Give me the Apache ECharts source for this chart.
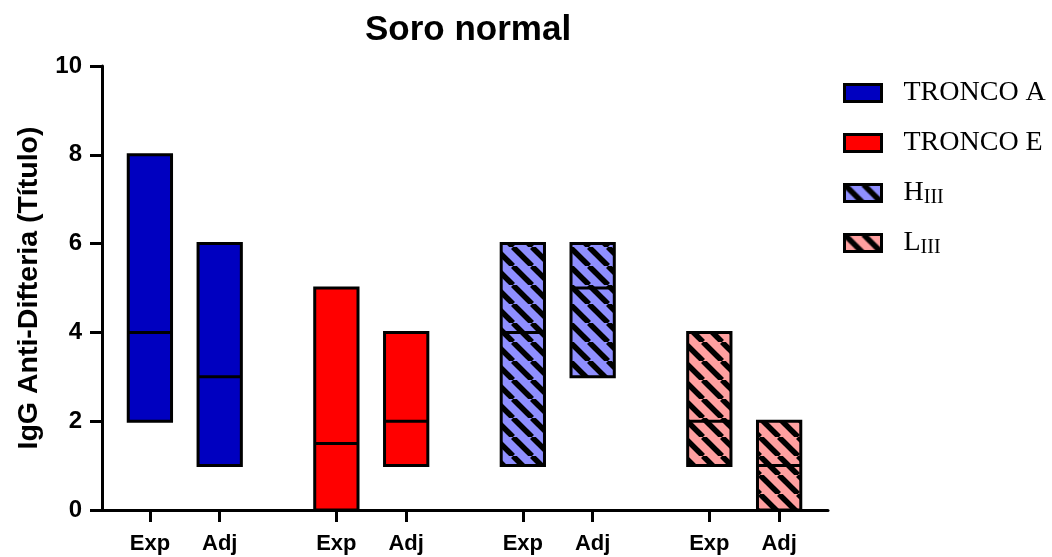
<!DOCTYPE html>
<html>
<head>
<meta charset="utf-8">
<script src="https://cdn.jsdelivr.net/npm/echarts@6/dist/echarts.min.js"></script>
<style>html,body{margin:0;padding:0;background:#fff}#c{width:1052px;height:557px}</style>
</head>
<body>
<div id="c"></div>
<script>
// ---- data ----
const categories = ['Exp', 'Adj'];
const groups = ['TRONCO A', 'TRONCO E', 'HIII', 'LIII'];
const minValues = [[2, 1], [0, 1], [1, 3], [1, 0]];
const maxValues = [[8, 6], [5, 4], [6, 6], [4, 2]];
const medianValues = [[4, 3], [1.5, 2], [4, 5], [2, 1]];
const yTicks = [0, 2, 4, 6, 8, 10];

// ---- layout / style ----
const groupPitch = 2.671;
const fills = ['#0000c0', '#ff0000', '#8f8fff', '#ffa0a0'];
const hatched = [false, false, true, true];

function makeHatch(bg) {
  const s = 19;
  const c = document.createElement('canvas');
  c.width = s; c.height = s;
  const g = c.getContext('2d');
  g.fillStyle = bg; g.fillRect(0, 0, s, s);
  g.strokeStyle = '#000'; g.lineWidth = 5.5;
  for (const k of [-s, 0, s]) {
    g.beginPath(); g.moveTo(k, 0); g.lineTo(k + s, s); g.stroke();
  }
  return c;
}
const paints = fills.map((f, i) => hatched[i] ? { image: makeHatch(f), repeat: 'repeat' } : f);

const positions = [];
const posLabel = {};
groups.forEach((g, gi) => categories.forEach((c, ci) => {
  const p = +(gi * groupPitch + ci).toFixed(3);
  positions.push(p);
  posLabel[p] = c;
}));

const series = groups.map((name, gi) => ({
  name: name,
  type: 'custom',
  itemStyle: { color: paints[gi], borderColor: '#000', borderWidth: 3 },
  data: categories.map((c, ci) => [gi * groupPitch + ci, minValues[gi][ci], maxValues[gi][ci], medianValues[gi][ci]]),
  renderItem: function (params, api) {
    const x = api.value(0), lo = api.value(1), hi = api.value(2), med = api.value(3);
    const w = api.size([1, 0])[0] * 0.62;
    const pTop = api.coord([x, hi]);
    const pBot = api.coord([x, lo]);
    const pMed = api.coord([x, med]);
    return {
      type: 'group',
      children: [
        { type: 'rect', shape: { x: pTop[0] - w / 2, y: pTop[1], width: w, height: pBot[1] - pTop[1] },
          style: { fill: paints[gi], stroke: '#000', lineWidth: 3 } },
        { type: 'line', shape: { x1: pMed[0] - w / 2, y1: pMed[1], x2: pMed[0] + w / 2, y2: pMed[1] },
          style: { stroke: '#000', lineWidth: 3 } }
      ]
    };
  }
}));

const axisFont = { fontFamily: 'Liberation Sans', fontWeight: 'bold', color: '#000' };
const chart = echarts.init(document.getElementById('c'));
chart.setOption({
  animation: false,
  backgroundColor: '#fff',
  title: {
    text: 'Soro normal', left: 360, top: 8,
    textStyle: { fontFamily: 'Liberation Sans', fontWeight: 'bold', fontSize: 35, color: '#000' }
  },
  legend: {
    orient: 'vertical', left: 843, top: 78, icon: 'rect', padding: 0,
    itemWidth: 37, itemHeight: 17, itemGap: 20,
    itemStyle: { borderWidth: 3, borderColor: '#000' },
    data: groups,
    formatter: function (n) {
      if (n === 'HIII') return '{n|H}{s|III}';
      if (n === 'LIII') return '{n|L}{s|III}';
      return n;
    },
    textStyle: {
      fontFamily: 'Liberation Serif', fontSize: 28, color: '#000', lineHeight: 30, padding: [0, 0, 0, 17],
      rich: {
        n: { fontFamily: 'Liberation Serif', fontSize: 28, color: '#000', lineHeight: 30 },
        s: { fontFamily: 'Liberation Serif', fontSize: 20, color: '#000', lineHeight: 16, verticalAlign: 'bottom' }
      }
    }
  },
  grid: { left: 102, right: 224, top: 66, bottom: 47, containLabel: false },
  xAxis: {
    type: 'value', min: -0.686, max: 3 * groupPitch + 1 + 0.7,
    axisLine: { show: true, onZero: false, lineStyle: { color: '#000', width: 3 } },
    axisTick: { show: true, inside: false, length: 12, lineStyle: { color: '#000', width: 3 }, customValues: positions },
    axisLabel: Object.assign({ fontSize: 22, margin: 23, customValues: positions,
      formatter: v => posLabel[+(+v).toFixed(3)] || '' }, axisFont),
    splitLine: { show: false }
  },
  yAxis: {
    type: 'value', min: yTicks[0], max: yTicks[yTicks.length - 1], interval: yTicks[1] - yTicks[0],
    name: 'IgG Anti-Difteria (Título)', nameLocation: 'middle', nameRotate: 90, nameGap: 58,
    nameTextStyle: { fontFamily: 'Liberation Sans', fontWeight: 'bold', fontSize: 28.5, color: '#000' },
    axisLine: { show: true, onZero: false, lineStyle: { color: '#000', width: 3 } },
    axisTick: { show: true, length: 12, lineStyle: { color: '#000', width: 3 } },
    axisLabel: Object.assign({ fontSize: 24, margin: 20 }, axisFont),
    splitLine: { show: false }
  },
  series: series
});
</script>
</body>
</html>
